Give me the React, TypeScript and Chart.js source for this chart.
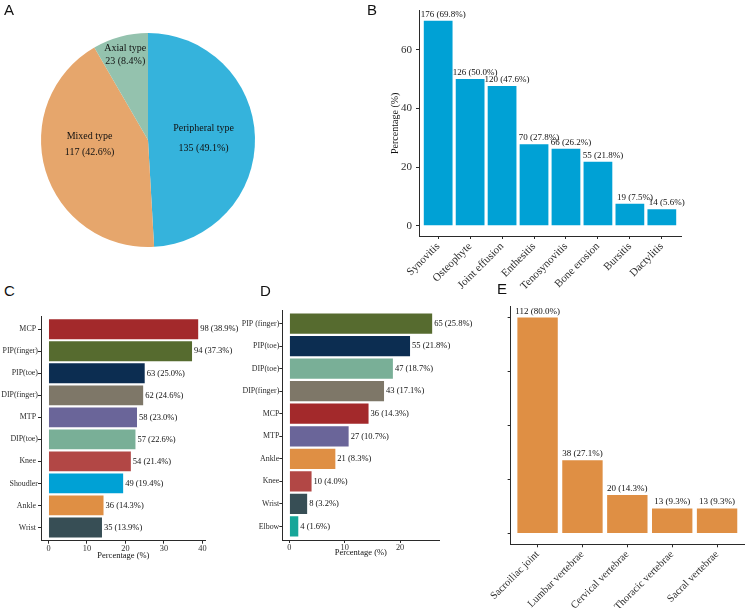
import React, { useEffect, useRef } from "react";
import { Chart, registerables } from "chart.js";
Chart.register(...registerables);

// ---------- DATA ----------
const pieLabels = ["Peripheral type", "Mixed type", "Axial type"];
const pieCounts = [135, 117, 23];
const piePercents = [49.1, 42.6, 8.4];

const lesionCategories = ["Synovitis", "Osteophyte", "Joint effusion", "Enthesitis", "Tenosynovitis", "Bone erosion", "Bursitis", "Dactylitis"];
const lesionCounts = [176, 126, 120, 70, 66, 55, 19, 14];
const lesionPercents = [69.8, 50.0, 47.6, 27.8, 26.2, 21.8, 7.5, 5.6];

const synCategories = ["MCP ", "PIP(finger)", "PIP(toe)", "DIP(finger)", "MTP ", "DIP(toe)", "Knee ", "Shoudler", "Ankle ", "Wrist "];
const synCounts = [98, 94, 63, 62, 58, 57, 54, 49, 36, 35];
const synPercents = [38.9, 37.3, 25.0, 24.6, 23.0, 22.6, 21.4, 19.4, 14.3, 13.9];

const entCategories = ["PIP (finger)", "PIP(toe)", "DIP(toe)", "DIP(finger)", "MCP", "MTP", "Ankle", "Knee", "Wrist", "Elbow"];
const entCounts = [65, 55, 47, 43, 36, 27, 21, 10, 8, 4];
const entPercents = [25.8, 21.8, 18.7, 17.1, 14.3, 10.7, 8.3, 4.0, 3.2, 1.6];

const axialCategories = ["Sacroiliac joint", "Lumbar vertebrae", "Cervical vertebrae", "Thoracic vertebrae", "Sacral vertebrae"];
const axialCounts = [112, 38, 20, 13, 13];
const axialPercents = [80.0, 27.1, 14.3, 9.3, 9.3];

const lesionTicks = [0, 20, 40, 60];
const synTicks = [0, 10, 20, 30, 40];
const entTicks = [0, 10, 20];
const axialTicks = [0, 20, 40, 60, 80];

// ---------- STYLE ----------
const SERIF = "'Liberation Serif', 'Times New Roman', serif";
const SANS = "'Liberation Sans', Arial, sans-serif";
const TICK_COLOR = "#2e2e2e";
const TEXT_COLOR = "#111111";
const AXIS_COLOR = "#2a2a2a";

const pieColors = ["#35B3DC", "#E6A66C", "#94C2AE"];
const pieLabelRadius = [0.52, 0.57, 0.82];
const pieLabelDy = [0, -13, 0];
const pieLineGap = [20, 16, 13];

const jointColors: Record<string, string> = {
  "MCP": "#A3292B",
  "PIP(finger)": "#566B2F",
  "PIP (finger)": "#566B2F",
  "PIP(toe)": "#0C2D51",
  "DIP(finger)": "#7E7768",
  "MTP": "#6A6599",
  "DIP(toe)": "#79AF97",
  "Knee": "#B24745",
  "Shoudler": "#00A1D5",
  "Ankle": "#DF8F44",
  "Wrist": "#374E55",
  "Elbow": "#16A699",
};

const fmt = (n: number, p: number) => `${n} (${p.toFixed(1)}%)`;

// ggplot-like discrete expansion of 0.6 units
const discMin = 0.4;
const discMax = (n: number) => n + 0.6;

function tickGrid() {
  return { display: true, drawOnChartArea: false, drawTicks: true, tickLength: 3, color: AXIS_COLOR, offset: false, lineWidth: 1 };
}
function border() {
  return { display: true, color: AXIS_COLOR, width: 1 };
}
function fixedTicks(vals: number[]) {
  return (s: any) => {
    s.ticks = vals.map((v) => ({ value: v }));
  };
}

function valueLabelPlugin(texts: string[], opts: { horizontal: boolean; size: number; gap: number; dx?: number }) {
  return {
    id: "valueLabels",
    afterDatasetsDraw(chart: any) {
      const ctx = chart.ctx;
      const meta = chart.getDatasetMeta(0);
      ctx.save();
      ctx.font = `${opts.size}px ${SERIF}`;
      ctx.fillStyle = TEXT_COLOR;
      meta.data.forEach((el: any, i: number) => {
        if (opts.horizontal) {
          ctx.textAlign = "left";
          ctx.textBaseline = "middle";
          ctx.fillText(texts[i], el.x + opts.gap, el.y);
        } else {
          ctx.textAlign = "center";
          ctx.textBaseline = "alphabetic";
          ctx.fillText(texts[i], el.x + (opts.dx || 0), el.y - opts.gap);
        }
      });
      ctx.restore();
    },
  };
}

const pieLabelPlugin = {
  id: "pieLabels",
  afterDatasetsDraw(chart: any) {
    const ctx = chart.ctx;
    const meta = chart.getDatasetMeta(0);
    ctx.save();
    ctx.font = `10px ${SERIF}`;
    ctx.fillStyle = TEXT_COLOR;
    ctx.textAlign = "center";
    ctx.textBaseline = "middle";
    meta.data.forEach((arc: any, i: number) => {
      const p = arc.getProps(["x", "y", "startAngle", "endAngle", "outerRadius"], true);
      const mid = (p.startAngle + p.endAngle) / 2;
      const r = p.outerRadius * pieLabelRadius[i];
      const cx = p.x + Math.cos(mid) * r;
      const cy = p.y + Math.sin(mid) * r + pieLabelDy[i];
      ctx.fillText(pieLabels[i], cx, cy - pieLineGap[i] / 2);
      ctx.fillText(`${pieCounts[i]} (${piePercents[i].toFixed(1)}%)`, cx, cy + pieLineGap[i] / 2);
    });
    ctx.restore();
  },
};

// ---------- CONFIGS ----------
function pieConfig(): any {
  return {
    type: "pie",
    data: {
      labels: pieLabels,
      datasets: [{ data: pieCounts, backgroundColor: pieColors, borderWidth: 0 }],
    },
    options: {
      responsive: false,
      animation: false,
      layout: { padding: { top: 33, bottom: 33, left: 0, right: 0 } },
      plugins: { legend: { display: false }, tooltip: { enabled: false } },
    },
    plugins: [pieLabelPlugin],
  };
}

function lesionConfig(): any {
  const n = lesionCategories.length;
  return {
    type: "bar",
    data: {
      datasets: [
        {
          data: lesionPercents.map((v, i) => ({ x: i + 1, y: v })),
          backgroundColor: "#00A1D5",
          borderWidth: 0,
          barPercentage: 0.9,
          categoryPercentage: 1,
        },
      ],
    },
    options: {
      responsive: false,
      animation: false,
      layout: { padding: { top: 3, right: 9, left: 0, bottom: 0 } },
      plugins: { legend: { display: false }, tooltip: { enabled: false } },
      scales: {
        x: {
          type: "linear",
          min: discMin,
          max: discMax(n),
          offset: false,
          afterBuildTicks: fixedTicks(lesionCategories.map((_, i) => i + 1)),
          grid: tickGrid(),
          border: border(),
          ticks: {
            autoSkip: false,
            minRotation: 45,
            maxRotation: 45,
            padding: 1,
            color: TICK_COLOR,
            font: { family: SERIF, size: 11 },
            callback: (v: number) => lesionCategories[Math.round(v) - 1] ?? "",
          },
          afterFit: (s: any) => {
            s.height = 60;
          },
        },
        y: {
          type: "linear",
          min: -3.49,
          max: 73.3,
          afterBuildTicks: fixedTicks(lesionTicks),
          grid: tickGrid(),
          border: border(),
          ticks: { padding: 4, color: TICK_COLOR, font: { family: SERIF, size: 11 } },
          title: {
            display: true,
            text: "Percentage (%)",
            color: TEXT_COLOR,
            font: { family: SERIF, size: 10 },
            padding: { top: 19, bottom: 0 },
          },
          afterFit: (s: any) => {
            s.width = 49;
          },
        },
      },
    },
    plugins: [valueLabelPlugin(lesionCounts.map((c, i) => fmt(c, lesionPercents[i])), { horizontal: false, size: 9, gap: 4, dx: 5 })],
  };
}

function hbarConfig(
  cats: string[],
  counts: number[],
  pcts: number[],
  range: [number, number],
  ticks: number[],
  yWidth: number,
  xHeight: number,
  padding: any,
  titlePadBottom: number
): any {
  const n = cats.length;
  return {
    type: "bar",
    data: {
      datasets: [
        {
          data: pcts.map((v, i) => ({ y: i + 1, x: v })),
          backgroundColor: cats.map((c) => jointColors[c.trim()]),
          borderWidth: 0,
          barPercentage: 0.9,
          categoryPercentage: 1,
        },
      ],
    },
    options: {
      indexAxis: "y",
      responsive: false,
      animation: false,
      layout: { padding },
      plugins: { legend: { display: false }, tooltip: { enabled: false } },
      scales: {
        y: {
          type: "linear",
          reverse: true,
          min: discMin,
          max: discMax(n),
          offset: false,
          afterBuildTicks: fixedTicks(cats.map((_, i) => i + 1)),
          grid: tickGrid(),
          border: border(),
          ticks: {
            autoSkip: false,
            padding: 0,
            color: TICK_COLOR,
            font: { family: SERIF, size: 7.9 },
            callback: (v: number) => cats[Math.round(v) - 1] ?? "",
          },
          afterFit: (s: any) => {
            s.width = yWidth;
          },
        },
        x: {
          type: "linear",
          min: range[0],
          max: range[1],
          afterBuildTicks: fixedTicks(ticks),
          grid: tickGrid(),
          border: border(),
          ticks: { padding: 0, color: TICK_COLOR, font: { family: SERIF, size: 8.3 } },
          title: {
            display: true,
            text: "Percentage (%)",
            color: TEXT_COLOR,
            font: { family: SERIF, size: 8.5 },
            padding: { top: 0, bottom: titlePadBottom },
          },
          afterFit: (s: any) => {
            s.height = xHeight;
          },
        },
      },
    },
    plugins: [valueLabelPlugin(counts.map((c, i) => fmt(c, pcts[i])), { horizontal: true, size: 8.5, gap: 2 })],
  };
}

function axialConfig(): any {
  const n = axialCategories.length;
  return {
    type: "bar",
    data: {
      datasets: [
        {
          data: axialPercents.map((v, i) => ({ x: i + 1, y: v })),
          backgroundColor: "#DF8F44",
          borderWidth: 0,
          barPercentage: 0.9,
          categoryPercentage: 1,
        },
      ],
    },
    options: {
      responsive: false,
      animation: false,
      layout: { padding: { top: 6.7, right: 1, left: 0, bottom: 0 } },
      plugins: { legend: { display: false }, tooltip: { enabled: false } },
      scales: {
        x: {
          type: "linear",
          min: discMin,
          max: discMax(n),
          offset: false,
          afterBuildTicks: fixedTicks(axialCategories.map((_, i) => i + 1)),
          grid: tickGrid(),
          border: border(),
          ticks: {
            autoSkip: false,
            minRotation: 45,
            maxRotation: 45,
            padding: 1,
            color: TICK_COLOR,
            font: { family: SERIF, size: 10.5 },
            callback: (v: number) => axialCategories[Math.round(v) - 1] ?? "",
          },
          afterFit: (s: any) => {
            s.height = 63.7;
          },
        },
        y: {
          type: "linear",
          min: -4,
          max: 84,
          afterBuildTicks: fixedTicks(axialTicks),
          grid: tickGrid(),
          border: border(),
          ticks: { padding: 0, color: TICK_COLOR, font: { family: SERIF, size: 9 }, callback: () => "" },
          afterFit: (s: any) => {
            s.width = 12.3;
          },
        },
      },
    },
    plugins: [valueLabelPlugin(axialCounts.map((c, i) => fmt(c, axialPercents[i])), { horizontal: false, size: 9, gap: 4 })],
  };
}

// ---------- COMPONENTS ----------
function ChartPanel({ left, top, width, height, make }: { left: number; top: number; width: number; height: number; make: () => any }) {
  const ref = useRef<HTMLCanvasElement>(null);
  useEffect(() => {
    const chart = new Chart(ref.current as HTMLCanvasElement, make());
    return () => chart.destroy();
  }, []);
  return (
    <canvas
      ref={ref}
      width={width}
      height={height}
      style={{ position: "absolute", left, top, width, height, display: "block" }}
    />
  );
}

function Letter({ ch, left, top }: { ch: string; left: number; top: number }) {
  return (
    <div
      style={{
        position: "absolute",
        left,
        top,
        fontFamily: SANS,
        fontSize: 15,
        lineHeight: "15px",
        color: "#111",
      }}
    >
      {ch}
    </div>
  );
}

export default function App() {
  return (
    <div style={{ position: "absolute", left: 0, top: 0, width: 745, height: 608, background: "#fff", overflow: "hidden" }}>
      <ChartPanel left={0} top={0} width={296} height={280} make={pieConfig} />
      <ChartPanel left={370} top={0} width={320} height={296} make={lesionConfig} />
      <ChartPanel
        left={0}
        top={305}
        width={265}
        height={266}
        make={() =>
          hbarConfig(synCategories, synCounts, synPercents, [-1.945, 40.85], synTicks, 41, 20.3, { top: 11, right: 59.3, left: 0, bottom: 10 }, 0.4)
        }
      />
      <ChartPanel
        left={240}
        top={305}
        width={245}
        height={266}
        make={() =>
          hbarConfig(entCategories, entCounts, entPercents, [-1.29, 27.09], entTicks, 42.3, 21, { top: 5, right: 45.7, left: 0, bottom: 10 }, 3.4)
        }
      />
      <ChartPanel left={490} top={300} width={255} height={308} make={axialConfig} />
      <Letter ch="A" left={4} top={2} />
      <Letter ch="B" left={367} top={2} />
      <Letter ch="C" left={4} top={283} />
      <Letter ch="D" left={260} top={283} />
      <Letter ch="E" left={497} top={281} />
    </div>
  );
}
